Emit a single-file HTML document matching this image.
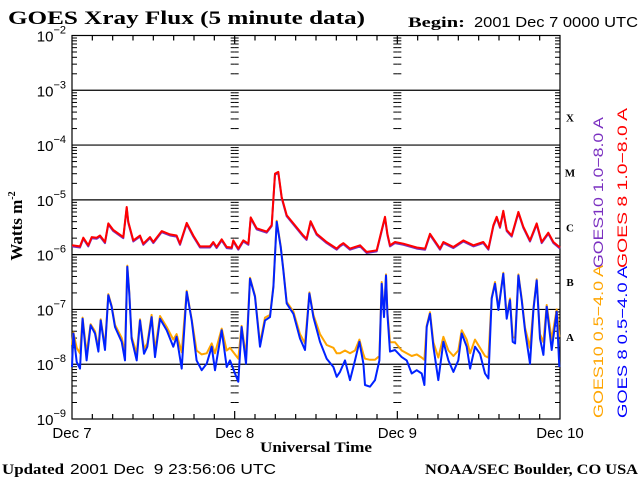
<!DOCTYPE html>
<html><head><meta charset="utf-8"><style>
html,body{margin:0;padding:0;background:#fff}
svg{display:block}
.serif{font-family:"Liberation Serif",serif;font-weight:bold}
.sans{font-family:"Liberation Sans",sans-serif}
</style></head><body>
<svg id="chart" width="640" height="480" viewBox="0 0 640 480" xmlns="http://www.w3.org/2000/svg">
<text class="serif" x="8" y="24" font-size="19" textLength="357" lengthAdjust="spacingAndGlyphs">GOES Xray Flux (5 minute data)</text>
<text class="serif" x="408" y="27" font-size="15" textLength="57" lengthAdjust="spacingAndGlyphs">Begin:</text>
<text class="sans" x="474" y="27" font-size="15" textLength="164" lengthAdjust="spacingAndGlyphs">2001 Dec 7 0000 UTC</text>
<text class="serif" font-size="17" transform="translate(22,226) rotate(-90)" text-anchor="middle">Watts m<tspan font-size="10" dy="-7">-2</tspan></text>
<text class="serif" x="260" y="452" font-size="15" textLength="112" lengthAdjust="spacingAndGlyphs">Universal Time</text>
<text class="serif" x="2" y="474" font-size="15" textLength="62" lengthAdjust="spacingAndGlyphs">Updated</text>
<text class="sans" x="70" y="474" font-size="15" textLength="206" lengthAdjust="spacingAndGlyphs">2001 Dec&#160;&#160;9 23:56:06 UTC</text>
<text class="serif" x="425" y="474" font-size="15" textLength="213" lengthAdjust="spacingAndGlyphs">NOAA/SEC Boulder, CO USA</text>
<g id="axes"></g>
<g id="series"></g>
<g id="legend">
<text class="sans" fill="#7a2fc0" font-size="14" transform="translate(603,268) rotate(-90)" textLength="151" lengthAdjust="spacingAndGlyphs">GOES10 1.0−8.0 A</text>
<text class="sans" fill="#ff0000" font-size="14" transform="translate(627,268) rotate(-90)" textLength="160" lengthAdjust="spacingAndGlyphs">GOES 8 1.0−8.0 A</text>
<text class="sans" fill="#ffa500" font-size="14" transform="translate(603,418) rotate(-90)" textLength="153" lengthAdjust="spacingAndGlyphs">GOES10 0.5−4.0 A</text>
<text class="sans" fill="#0000ff" font-size="14" transform="translate(627,418) rotate(-90)" textLength="152" lengthAdjust="spacingAndGlyphs">GOES 8 0.5−4.0 A</text>
</g>
</svg>
<script>
const longTimes=[0.0,1.18,1.67,2.41,2.90,3.64,4.13,4.87,5.36,6.10,7.57,8.07,8.31,9.05,10.03,10.52,11.51,12.00,13.23,14.46,15.44,15.94,16.92,17.90,18.89,20.36,20.85,21.34,22.08,22.82,23.56,23.80,24.54,25.28,26.02,26.36,27.25,28.72,29.46,29.95,30.44,30.94,31.67,32.66,34.13,34.62,35.21,36.10,37.57,39.05,39.54,40.04,41.02,42.50,43.48,44.96,45.69,46.18,46.53,46.92,47.66,48.89,50.86,52.09,52.82,53.81,54.30,54.79,56.27,57.74,59.22,60.69,61.43,62.17,62.66,63.15,63.64,64.14,64.87,65.86,66.59,67.58,68.56,69.30,70.28,71.02,72.00];
const goes8Long=[-5.83,-5.85,-5.69,-5.83,-5.68,-5.69,-5.65,-5.77,-5.43,-5.55,-5.68,-5.13,-5.40,-5.74,-5.65,-5.80,-5.68,-5.77,-5.57,-5.63,-5.65,-5.80,-5.42,-5.65,-5.85,-5.85,-5.77,-5.86,-5.72,-5.86,-5.87,-5.74,-5.89,-5.74,-5.80,-5.32,-5.52,-5.58,-5.46,-4.52,-4.49,-4.95,-5.28,-5.43,-5.65,-5.71,-5.39,-5.62,-5.77,-5.89,-5.83,-5.79,-5.89,-5.83,-5.95,-5.92,-5.55,-5.31,-5.62,-5.83,-5.77,-5.80,-5.87,-5.89,-5.62,-5.80,-5.89,-5.77,-5.86,-5.74,-5.83,-5.77,-5.89,-5.46,-5.31,-5.49,-5.20,-5.55,-5.65,-5.22,-5.49,-5.74,-5.43,-5.77,-5.60,-5.77,-5.87];
const goes10Long=[-5.85,-5.87,-5.71,-5.85,-5.70,-5.71,-5.67,-5.79,-5.45,-5.57,-5.70,-5.15,-5.42,-5.76,-5.67,-5.82,-5.70,-5.79,-5.59,-5.65,-5.67,-5.82,-5.44,-5.67,-5.87,-5.87,-5.79,-5.88,-5.74,-5.88,-5.89,-5.76,-5.91,-5.76,-5.82,-5.34,-5.54,-5.60,-5.48,-4.54,-4.51,-4.97,-5.30,-5.45,-5.67,-5.73,-5.41,-5.64,-5.79,-5.91,-5.85,-5.81,-5.91,-5.85,-5.97,-5.94,-5.57,-5.33,-5.64,-5.85,-5.79,-5.82,-5.89,-5.91,-5.64,-5.82,-5.91,-5.79,-5.88,-5.76,-5.85,-5.79,-5.91,-5.48,-5.33,-5.51,-5.22,-5.57,-5.67,-5.24,-5.51,-5.76,-5.45,-5.79,-5.62,-5.79,-5.89];
const shortTimes=[0.0,0.20,0.69,1.18,1.57,2.16,2.75,3.39,3.89,4.23,4.87,5.36,5.85,6.34,7.33,7.82,8.16,8.46,8.80,9.54,10.03,10.62,11.11,11.75,12.25,12.98,13.97,14.95,15.44,16.18,16.92,17.66,18.39,19.13,19.87,20.61,21.10,22.08,22.82,23.31,24.05,24.54,25.03,25.67,26.26,27.00,27.74,28.48,29.21,29.71,30.20,30.79,31.18,31.67,32.66,33.64,34.38,35.02,35.61,36.59,37.58,38.56,39.05,39.54,40.28,41.02,41.76,42.40,42.99,43.23,43.97,44.71,45.35,45.69,46.04,46.33,46.53,46.92,47.66,48.64,49.38,50.12,50.86,51.59,51.99,52.33,52.82,53.32,54.05,54.79,55.53,56.27,57.00,57.50,58.23,58.73,59.46,60.20,60.94,61.43,61.92,62.41,62.91,63.64,64.14,64.63,65.02,65.37,65.86,66.35,66.84,67.58,68.07,68.56,69.05,69.55,70.04,70.78,71.51,71.90];
const goes8Short=[-8.05,-7.44,-7.96,-8.08,-7.17,-7.93,-7.29,-7.44,-7.77,-7.20,-7.74,-6.74,-6.95,-7.32,-7.59,-7.93,-6.22,-6.71,-7.53,-7.93,-7.20,-7.81,-7.68,-7.14,-7.87,-7.17,-7.38,-7.68,-7.50,-8.08,-6.68,-7.20,-7.93,-8.11,-7.99,-7.68,-8.11,-7.38,-8.05,-7.93,-8.17,-8.32,-7.32,-7.99,-6.44,-6.77,-7.68,-7.20,-7.14,-6.59,-5.40,-5.86,-6.28,-6.89,-7.08,-7.53,-7.74,-6.71,-7.14,-7.59,-7.90,-8.05,-8.23,-8.14,-7.93,-8.29,-7.93,-7.59,-7.99,-8.38,-8.41,-8.29,-7.93,-6.53,-7.14,-6.38,-7.08,-7.77,-7.74,-7.87,-7.93,-8.17,-8.11,-8.17,-8.38,-7.32,-7.08,-7.68,-8.29,-7.59,-7.93,-8.14,-7.93,-7.44,-7.68,-8.08,-7.68,-7.81,-8.17,-8.26,-6.80,-6.53,-7.01,-6.35,-7.17,-6.83,-7.59,-7.62,-6.38,-6.83,-7.38,-7.99,-7.01,-6.47,-7.53,-7.83,-6.95,-7.74,-7.04,-8.05];
const goes10Short=[-7.65,-7.42,-7.70,-7.80,-7.15,-7.80,-7.27,-7.40,-7.70,-7.18,-7.68,-6.72,-6.93,-7.28,-7.52,-7.78,-6.20,-6.69,-7.50,-7.80,-7.18,-7.72,-7.62,-7.10,-7.75,-7.12,-7.32,-7.55,-7.45,-7.78,-6.66,-7.18,-7.75,-7.82,-7.80,-7.62,-7.80,-7.35,-7.75,-7.70,-7.82,-7.90,-7.30,-7.85,-6.42,-6.75,-7.62,-7.15,-7.10,-6.57,-5.38,-5.84,-6.26,-6.86,-7.04,-7.45,-7.62,-6.69,-7.10,-7.45,-7.65,-7.70,-7.80,-7.80,-7.75,-7.80,-7.75,-7.55,-7.82,-7.90,-7.92,-7.92,-7.85,-6.50,-7.10,-6.36,-7.04,-7.60,-7.60,-7.75,-7.80,-7.85,-7.82,-7.88,-7.92,-7.30,-7.05,-7.60,-7.88,-7.50,-7.75,-7.85,-7.75,-7.38,-7.55,-7.80,-7.55,-7.70,-7.85,-7.88,-6.78,-6.50,-6.98,-6.33,-7.12,-6.80,-7.50,-7.52,-6.36,-6.80,-7.33,-7.70,-6.98,-6.45,-7.45,-7.60,-6.92,-7.55,-7.00,-7.50];
const decadeLabels=["-2","-3","-4","-5","-6","-7","-8","-9"];
const dayLabels=["Dec 7","Dec 8","Dec 9","Dec 10"];
const classLabels=["X","M","C","B","A"];

const NS="http://www.w3.org/2000/svg";
const X0=72,X1=560,Y0=35.5,Y1=419,LOGTOP=-2,LOGBOT=-9,HOURS=72;
function xs(h){return X0+(h/HOURS)*(X1-X0);}
function ys(l){return Y0+(LOGTOP-l)/(LOGTOP-LOGBOT)*(Y1-Y0);}
function mk(tag,attrs,parent){const e=document.createElementNS(NS,tag);for(const k in attrs)e.setAttribute(k,attrs[k]);parent.appendChild(e);return e;}
const axes=document.getElementById('axes');
const ser=document.getElementById('series');
const frame=mk('rect',{x:X0,y:Y0,width:X1-X0,height:Y1-Y0,fill:'none',stroke:'#000','stroke-width':1.2},axes);


decadeLabels.forEach(function(s){
  const l=parseFloat(s);const y=ys(l);
  if(l<LOGTOP&&l>LOGBOT){const ln=mk('line',{x1:X0,x2:X1,y1:y,y2:y,stroke:'#000','stroke-width':1.2},axes);
  
  }
  const t=mk('text',{x:66,y:y+6,'text-anchor':'end','font-size':15,'class':'sans'},axes);
  
  
  t.appendChild(document.createTextNode('10'));
  const sp=mk('tspan',{'font-size':11,dy:-8},t);sp.textContent=s.replace('-','−');
});
const tickXs=[[X0,5],[X1,-5],[xs(24),-4],[xs(24),4],[xs(48),-4],[xs(48),4]];
for(let d=LOGBOT;d<LOGTOP;d++){for(let m=2;m<=9;m++){const y=ys(d+Math.log10(m));
  tickXs.forEach(function(p){const tk=mk('line',{x1:p[0],x2:p[0]+p[1],y1:y,y2:y,stroke:'#000','stroke-width':1},axes);
  
  });}}
for(let h=3;h<HOURS;h+=3){const x=xs(h);const len=(h%24===0)?8:5;
  const a=mk('line',{x1:x,x2:x,y1:Y0,y2:Y0+len,stroke:'#000','stroke-width':1.2},axes);
  
  
  const b=mk('line',{x1:x,x2:x,y1:Y1,y2:Y1-len,stroke:'#000','stroke-width':1.2},axes);
  
  }
dayLabels.forEach(function(s,i){const t=mk('text',{x:xs(i*24),y:438,'text-anchor':'middle','font-size':15,'class':'sans'},axes);
  
  
  t.textContent=s;});
classLabels.forEach(function(s,i){const t=mk('text',{x:570,y:ys(-3.5-i)+4,'text-anchor':'middle','font-size':11,'class':'serif'},axes);
  
  
  t.textContent=s;});
function series(times,vals,color,name){
  let d='';times.forEach(function(h,i){d+=(i?'L':'M')+xs(h).toFixed(1)+','+ys(vals[i]).toFixed(1);});
  const p=mk('path',{d:d,fill:'none',stroke:color,'stroke-width':2,'stroke-linejoin':'round'},ser);
  
  
}
series(longTimes,goes10Long,'#7a2fc0','goes10-long-line');
series(longTimes,goes8Long,'#ff0000','goes8-long-line');
series(shortTimes,goes10Short,'#ffa500','goes10-short-line');
series(shortTimes,goes8Short,'#0022ff','goes8-short-line');
</script>
</body></html>
